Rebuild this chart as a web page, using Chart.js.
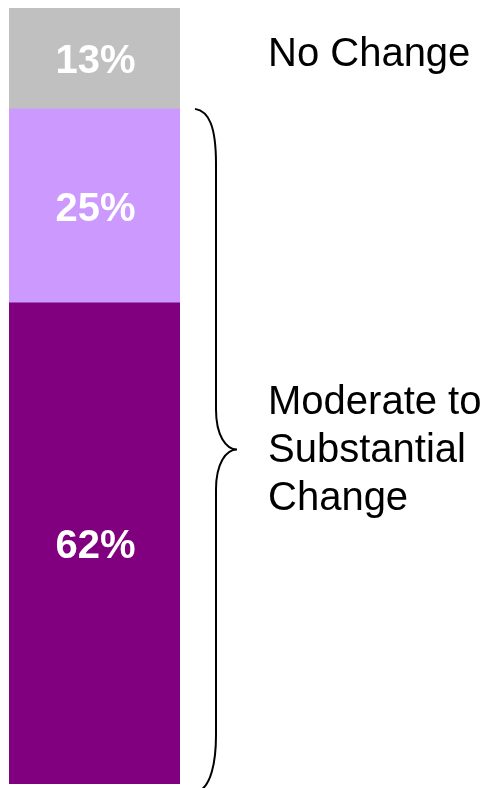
<!DOCTYPE html>
<html>
<head>
<meta charset="utf-8">
<script src="https://cdn.jsdelivr.net/npm/chart.js@4"></script>
<style>
  body { margin: 0; background: #fff; }
  #wrap { width: 488px; height: 788px; position: relative; }
</style>
</head>
<body>
<div id="wrap"><canvas id="changeChart"></canvas></div>
<script>
// stacked from the bottom up
let categories = [''];
let segmentNames = ['Substantial', 'Moderate', 'No Change'];
let segmentValues = [62, 25, 13];
let groupLabels = ['No Change', 'Moderate to', 'Substantial', 'Change'];

let colors = ['#800080', '#CC99FF', '#C0C0C0'];
let fontFamily = "'Liberation Sans', Arial, sans-serif";

let ctx = document.getElementById('changeChart').getContext('2d');

// white % value in the middle of each segment (baseline sits half a cap height below centre)
let valueLabels = {
  id: 'valueLabels',
  afterDatasetsDraw(chart) {
    let c = chart.ctx;
    c.save();
    c.font = 'bold 40px ' + fontFamily;
    c.fillStyle = '#ffffff';
    c.textAlign = 'center';
    c.textBaseline = 'alphabetic';
    chart.data.datasets.forEach((ds, i) => {
      let bar = chart.getDatasetMeta(i).data[0];
      let mid = (bar.y + bar.base) / 2;
      c.fillText(ds.data[0] + '%', bar.x + 1, mid + 15);
    });
    c.restore();
  }
};

// curly brace around the changed segments plus the text on the right
let sideNotes = {
  id: 'sideNotes',
  afterDraw(chart) {
    let c = chart.ctx;
    let y = chart.scales.y;
    let changed = segmentValues[0] + segmentValues[1];
    let top = y.getPixelForValue(changed);
    let bottom = y.getPixelForValue(0) + 6;
    let mid = (top + bottom) / 2;

    c.save();
    c.strokeStyle = '#000';
    c.lineWidth = 2;
    c.beginPath();
    c.moveTo(195, top);
    c.bezierCurveTo(209, top + 2, 216, top + 18, 216, top + 55);
    c.lineTo(216, mid - 40);
    c.bezierCurveTo(216, mid - 14, 226, mid, 237, mid);
    c.bezierCurveTo(226, mid, 216, mid + 14, 216, mid + 40);
    c.lineTo(216, bottom - 55);
    c.bezierCurveTo(216, bottom - 25, 210, bottom - 6, 201, bottom);
    c.stroke();

    c.font = '40px ' + fontFamily;
    c.fillStyle = '#000';
    c.textAlign = 'left';
    c.textBaseline = 'alphabetic';

    let grey = chart.getDatasetMeta(2).data[0];
    c.fillText(groupLabels[0], 268, (grey.y + grey.base) / 2 + 8);

    let lineH = 48;
    for (let i = 1; i < groupLabels.length; i++) {
      c.fillText(groupLabels[i], 268, mid + 13 + (i - 2) * lineH);
    }
    c.restore();
  }
};

let chart = new Chart(ctx, {
  type: 'bar',
  data: {
    labels: categories,
    datasets: segmentValues.map((v, i) => ({
      label: segmentNames[i],
      data: [v],
      backgroundColor: colors[i],
      borderWidth: 0,
      barPercentage: 1,
      categoryPercentage: 1
    }))
  },
  options: {
    responsive: true,
    maintainAspectRatio: false,
    animation: false,
    layout: {
      padding: { left: 9, right: 308, top: 8, bottom: 4 }
    },
    plugins: {
      legend: { display: false },
      tooltip: { enabled: false }
    },
    scales: {
      x: { stacked: true, display: false },
      y: { stacked: true, display: false, min: 0, max: 100 }
    }
  },
  plugins: [valueLabels, sideNotes]
});
</script>
</body>
</html>
